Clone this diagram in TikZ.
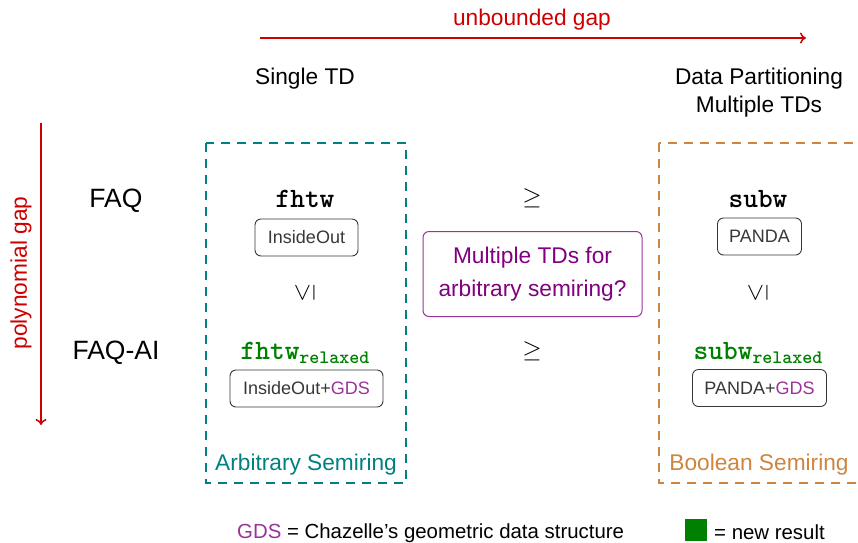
\documentclass[tikz,border=0pt]{standalone}
\usepackage{fontspec}
\setmainfont{Liberation Sans}
\usetikzlibrary{arrows.meta}
\definecolor{gapred}{RGB}{204,0,0}
\definecolor{tealc}{RGB}{0,128,128}
\definecolor{orngc}{RGB}{205,133,63}
\definecolor{purpc}{RGB}{128,0,128}
\definecolor{gdsc}{RGB}{153,51,153}
\definecolor{newgreen}{RGB}{0,128,0}
\definecolor{boxgray}{RGB}{55,55,55}
\begin{document}
\begin{tikzpicture}[x=1pt,y=-1pt,
  lbl/.style={inner sep=0pt, font=\fontsize{22.7}{26}\selectfont},
  big/.style={inner sep=0pt, font=\fontsize{26.5}{28}\selectfont},
  small/.style={inner sep=0pt, font=\fontsize{20.4}{24}\selectfont},
  alg/.style={draw=boxgray, rounded corners=6pt, line width=0.9pt, inner sep=0pt,
    font=\fontsize{18}{20}\selectfont, text=boxgray, minimum height=37pt},
  gaparrow/.style={draw=gapred, line width=1.5pt, -{To[length=6pt,width=11pt]}},
  region/.style={dash pattern=on 9pt off 7pt, line width=2pt},
  wd/.style={inner sep=0pt, font=\fontsize{28}{30}\selectfont\ttfamily\bfseries},
  rel/.style={inner sep=0pt, font=\fontsize{24}{24}\selectfont},
]
\useasboundingbox (0,0) rectangle (858,542);
\clip (0,0) rectangle (858,542);

% top arrow
\coordinate (ha) at (260,38);
\coordinate (hb) at (806,38);
\draw[gaparrow] (ha) -- (hb);
\node[lbl, text=gapred, anchor=base] (ub) at (532,25) {unbounded gap};

% column headings
\node[lbl, anchor=base] (single) at (305,84) {Single TD};
\node[lbl, anchor=base] (dp) at (759,84) {Data Partitioning};
\node[lbl, anchor=base] (mt) at (759,112) {Multiple TDs};

% left arrow
\coordinate (va) at (41,123);
\coordinate (vb) at (41,425);
\draw[gaparrow] (va) -- (vb);
\node[lbl, text=gapred, rotate=90] (pg) at (21,273) {polynomial gap};

% row labels
\node[big, anchor=base] (faq) at (116,207.5) {FAQ};
\node[big, anchor=base] (faqai) at (116,359.5) {FAQ-AI};

% regions
\draw[region, draw=tealc] (206,143) rectangle (406,483);
\draw[region, draw=orngc] (659,143) rectangle (880,483);
\node[lbl, text=tealc, anchor=base] (arb) at (306,470) {Arbitrary Semiring};
\node[lbl, text=orngc, anchor=base] (bool) at (759,470) {Boolean Semiring};

% left column
\node[wd, anchor=base] (fhtw) at (305,207) {fhtw};
\node[alg, minimum width=103pt] (io) at (306.5,237.5) {InsideOut};
\node[rel, rotate=90] (le1) at (305,293) {$\leq$};
\node[wd, anchor=base, text=newgreen] (fhtwr) at (305,359)
  {fhtw\raisebox{-4pt}{\fontsize{19}{20}\selectfont relaxed}};
\node[alg, minimum width=153pt] (iog) at (306.5,388.5) {InsideOut+\textcolor{gdsc}{GDS}};

% middle
\node[rel] (ge1) at (532,198) {$\geq$};
\node[rel] (ge2) at (532,351) {$\geq$};
\node[draw=purpc!80, rounded corners=6pt, line width=1pt, minimum width=219pt,
  minimum height=85pt, inner sep=0pt] (q) at (532.5,274) {};
\node[lbl, text=purpc, anchor=base] (q1) at (532.5,263) {Multiple TDs for};
\node[lbl, text=purpc, anchor=base] (q2) at (532.5,296) {arbitrary semiring?};

% right column
\node[wd, anchor=base] (subw) at (758,207) {subw};
\node[alg, minimum width=84pt] (panda) at (759.5,236.5) {PANDA};
\node[rel, rotate=90] (le2) at (758,293) {$\leq$};
\node[wd, anchor=base, text=newgreen] (subwr) at (758,359)
  {subw\raisebox{-4pt}{\fontsize{19}{20}\selectfont relaxed}};
\node[alg, minimum width=134pt] (pg2) at (759.5,388) {PANDA+\textcolor{gdsc}{GDS}};

% legend
\node[small, anchor=base west] (leg1) at (237,538)
  {\textcolor{gdsc}{GDS} = Chazelle’s geometric data structure};
\node[fill=newgreen, minimum size=22pt, inner sep=0pt] (sq) at (696,530) {};
\node[small, anchor=base west] (leg2) at (714,539) {= new result};
\end{tikzpicture}
\end{document}
